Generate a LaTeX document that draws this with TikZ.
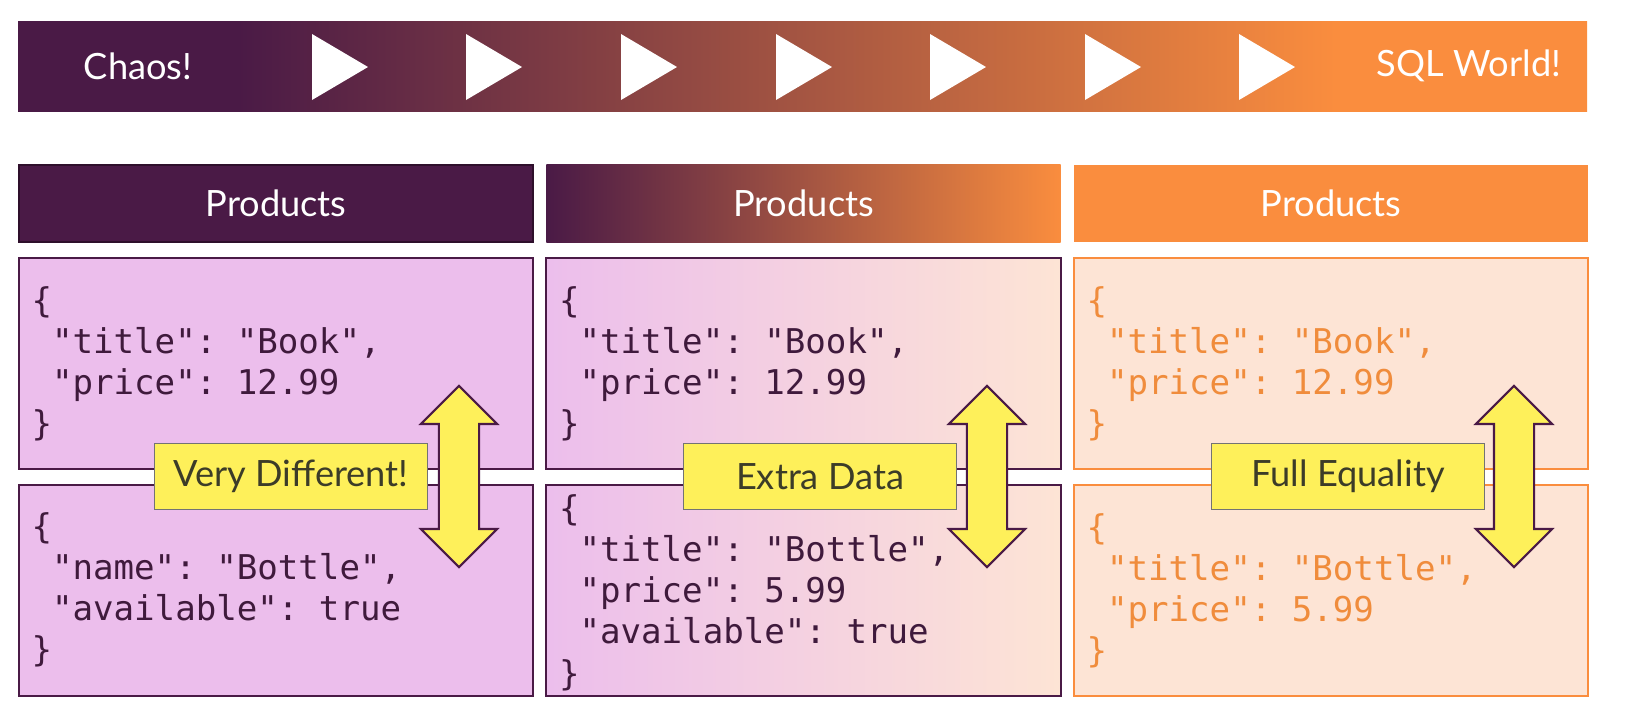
\documentclass[tikz,border=0pt]{standalone}
\usepackage{fontspec}
\setmainfont{Lato}
\newfontfamily\jsonfont{DejaVu Sans Mono}
\usetikzlibrary{shapes.arrows}

\definecolor{chaos}{HTML}{4A1A46}
\definecolor{chaosdark}{HTML}{2E0F2B}
\definecolor{sqlworld}{HTML}{FA8D3E}
\definecolor{docpink}{HTML}{ECBEEC}
\definecolor{docpeach}{HTML}{FDE4D5}
\definecolor{tagyellow}{HTML}{FEF05A}
\definecolor{tagtext}{HTML}{3C3C28}
\definecolor{jsontext}{HTML}{3F1A3C}
\definecolor{jsonorange}{HTML}{F08C3C}

\pgfdeclarehorizontalshading{chaostosql}{100bp}{color(0bp)=(chaos); color(32bp)=(chaos); color(67bp)=(sqlworld); color(100bp)=(sqlworld)}

\begin{document}
\begin{tikzpicture}[x=0.01cm, y=-0.01cm,
    hdr/.style={minimum width=5.14cm, minimum height=0.77cm, inner sep=0pt, text=white, font=\fontsize{10.3}{12}\selectfont},
    doc/.style={minimum width=5.14cm, minimum height=2.11cm, inner sep=0pt, line width=0.6pt},
    json/.style={anchor=north west, inner sep=0pt, align=left, xshift=0.13cm, font=\jsonfont\fontsize{9.7}{11.7}\selectfont\frenchspacing},
    tag/.style={fill=tagyellow, draw=gray!90!black, line width=0.4pt, minimum width=2.73cm, minimum height=0.66cm, inner sep=0pt, text=tagtext, font=\fontsize{10.3}{12}\selectfont},
    twoway/.style={double arrow, rotate=90, minimum height=1.81cm, inner xsep=0pt, inner ysep=0.19cm, double arrow head extend=0.18cm, fill=tagyellow, draw=chaos, line width=0.6pt}]
  \useasboundingbox (0,0) rectangle (1651,720);

  \fill [shading=chaostosql] (18,21) rectangle (1587,111);
  \node [text=white, font=\fontsize{10.3}{12}\selectfont] (chaos) at (138,66) {Chaos!};
  \node [text=white, font=\fontsize{10.3}{12}\selectfont] (sql) at (1469,66) {SQL World!};
  \fill [white] (312,34) -- (368,67) -- (312,100) -- cycle;
  \fill [white] (466,34) -- (522,67) -- (466,100) -- cycle;
  \fill [white] (621,34) -- (677,67) -- (621,100) -- cycle;
  \fill [white] (776,34) -- (832,67) -- (776,100) -- cycle;
  \fill [white] (930,34) -- (986,67) -- (930,100) -- cycle;
  \fill [white] (1085,34) -- (1141,67) -- (1085,100) -- cycle;
  \fill [white] (1239,34) -- (1295,67) -- (1239,100) -- cycle;

  \node [hdr, fill=chaos, draw=chaosdark, line width=0.4pt] (prodA) at (276,203.5) {Products};
  \node [hdr, left color=chaos, right color=sqlworld] (prodB) at (803.5,203.5) {Products};
  \node [hdr, fill=sqlworld] (prodC) at (1331,203.5) {Products};

  \node [doc, fill=docpink, draw=chaos] (bookA) at (276,363.5) {};
  \node [doc, fill=docpink, draw=chaos] (bottleA) at (276,590.5) {};
  \node [doc, left color=docpink, right color=docpeach, draw=chaos] (bookB) at (803.5,363.5) {};
  \node [doc, left color=docpink, right color=docpeach, draw=chaos] (bottleB) at (803.5,590.5) {};
  \node [doc, fill=docpeach, draw=sqlworld] (bookC) at (1331,363.5) {};
  \node [doc, fill=docpeach, draw=sqlworld] (bottleC) at (1331,590.5) {};

  \node [json, text=jsontext, yshift=-0.29cm] (jsonA1) at (bookA.north west) {\{\\\ "title": "Book",\\\ "price": 12.99\\\}};
  \node [json, text=jsontext, yshift=-0.28cm] (jsonA2) at (bottleA.north west) {\{\\\ "name": "Bottle",\\\ "available": true\\\}};
  \node [json, text=jsontext, yshift=-0.29cm] (jsonB1) at (bookB.north west) {\{\\\ "title": "Book",\\\ "price": 12.99\\\}};
  \node [json, text=jsontext, yshift=-0.10cm] (jsonB2) at (bottleB.north west) {\{\\\ "title": "Bottle",\\\ "price": 5.99\\\ "available": true\\\}};
  \node [json, text=jsonorange, yshift=-0.29cm] (jsonC1) at (bookC.north west) {\{\\\ "title": "Book",\\\ "price": 12.99\\\}};
  \node [json, text=jsonorange, yshift=-0.29cm] (jsonC2) at (bottleC.north west) {\{\\\ "title": "Bottle",\\\ "price": 5.99\\\}};

  \node [tag] (diffA) at (291,476.5) {Very Different!};
  \node [tag] (diffB) at (820,476.5) {Extra Data};
  \node [tag] (diffC) at (1348,476.5) {Full Equality};
  \node [twoway] (cmpA) at (459,476.5) {};
  \node [twoway] (cmpB) at (987,476.5) {};
  \node [twoway] (cmpC) at (1514,476.5) {};
\end{tikzpicture}
\end{document}
